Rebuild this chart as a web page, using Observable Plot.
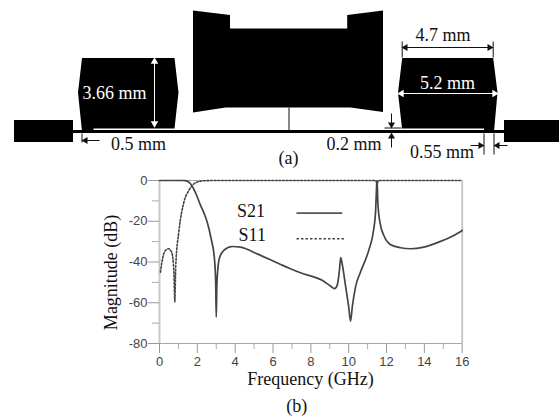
<!DOCTYPE html>
<html><head><meta charset="utf-8">
<script src="https://cdn.jsdelivr.net/npm/d3@7"></script>
<script src="https://cdn.jsdelivr.net/npm/@observablehq/plot@0.6"></script>
<style>html,body{margin:0;padding:0;background:#fff}svg{display:block;overflow:visible;background:transparent}</style>
</head><body><div id="a"></div><div id="b"></div>
<script>
// S-parameter curves [GHz, dB]
const s21 = [[0,0],[1.2,0],[1.37,-0.1],[1.55,-0.8],[1.73,-2.8],[1.95,-7],[2.17,-12.2],[2.35,-16],[2.52,-20.4],[2.73,-28.6],[2.9,-38],[2.97,-50],[3.0,-67],[3.03,-52],[3.07,-45],[3.17,-38],[3.4,-34.3],[3.84,-32.4],[4.28,-32.7],[5.16,-36],[6.4,-41.2],[6.92,-43.3],[7.45,-45.3],[8.6,-49],[9.04,-51.8],[9.25,-53.1],[9.39,-51.5],[9.5,-45],[9.58,-37.9],[9.67,-41.7],[9.83,-51.5],[10.0,-62],[10.1,-69],[10.19,-62],[10.36,-52.3],[10.62,-45],[11.06,-34.3],[11.3,-25.3],[11.42,-15.5],[11.49,-0.8],[11.5,0],[11.54,-10.6],[11.65,-20.4],[11.86,-27],[12.2,-31.4],[12.74,-33],[13.27,-33.5],[13.97,-32.7],[14.85,-29.9],[15.55,-27],[16,-24.5]];
const s11 = [[0.05,-45],[0.2,-36.8],[0.35,-34],[0.49,-33.5],[0.6,-34.5],[0.67,-36],[0.76,-45],[0.81,-59.6],[0.86,-41.7],[1.02,-25.3],[1.29,-10.6],[1.55,-4.9],[1.73,-2.5],[2.08,-0.5],[2.4,-0.1],[3,0],[11.42,0],[11.5,-1.5],[11.58,0],[16,0]];
const xMajor = [0,2,4,6,8,10,12,14,16];
const xMinor = [1,3,5,7,9,11,13,15];
const yMajor = [0,-20,-40,-60,-80];
const yMinor = [-10,-30,-50,-70];
const legendSolid = [{x1:7.24,x2:9.66,y:-16}];
const legendDashed = [{x1:7.24,x2:9.78,y:-28.6}];
const legendTexts = [{t:"S21",x:4.1,y:-18},{t:"S11",x:4.18,y:-29.5}];
const chartTexts = [
  {t:"Frequency (GHz)",x:7.98,y:-100.5},
  {t:"(b)",x:7.25,y:-113.6}
];

// Layout diagram outlines (diagram units)
const shapes = [
  {id:"centre",pts:[[192.5,10],[229.5,14.5],[229.5,28],[346.7,28],[346.7,14.5],[382.5,10],[382.5,111.5],[350,107],[225,107],[192.5,112]]},
  {id:"left",pts:[[81.5,57.5],[174,57.5],[178,92],[174,128],[93,128],[93,131],[81.5,131],[77.5,92]]},
  {id:"right",pts:[[401.7,57.5],[492.7,57.5],[497,92],[493.5,131],[483.5,131],[483.5,128],[401.5,128],[397.5,92]]}
];
const blocks = [{x1:14,x2:73,y1:120,y2:142},{x1:504,x2:559,y1:120,y2:142},{x1:73,x2:504,y1:130,y2:133}];
const whiteSegs = [{x1:154,y1:60,x2:154,y2:124},{x1:401,y1:93,x2:495,y2:93}];
const darkSegs = [
  {x1:288.5,y1:107,x2:288.5,y2:130},
  {x1:404,y1:47,x2:490,y2:47},{x1:401.7,y1:41,x2:401.7,y2:57},{x1:492.7,y1:41,x2:492.7,y2:57},
  {x1:81.5,y1:133,x2:81.5,y2:142},{x1:85,y1:140,x2:99,y2:140},
  {x1:384,y1:127.5,x2:401,y2:127.5},{x1:391,y1:113,x2:391,y2:124},{x1:391,y1:137,x2:391,y2:147},
  {x1:483.5,y1:133,x2:483.5,y2:154},{x1:493.5,y1:133,x2:493.5,y2:154},{x1:470,y1:145,x2:480,y2:145},{x1:497,y1:145,x2:507,y2:145}
];
const whiteHeads = [{x:154,y:61,a:0},{x:154,y:123,a:180},{x:401,y:93,a:-90},{x:494,y:93,a:90}];
const darkHeads = [
  {x:405,y:47,a:-90},{x:489,y:47,a:90},{x:85,y:140,a:-90},
  {x:391,y:124,a:180},{x:391,y:136,a:0},{x:480,y:145,a:90},{x:497,y:145,a:-90}
];
const darkLabels = [
  {t:"4.7 mm",x:442.6,y:40},{t:"0.5 mm",x:138,y:149},{t:"0.2 mm",x:353.5,y:149},
  {t:"0.55 mm",x:441.5,y:157.7},{t:"(a)",x:288,y:163}
];
const whiteLabels = [{t:"3.66 mm",x:114,y:98},{t:"5.2 mm",x:447,y:88}];

const serif = "'Liberation Serif','Times New Roman',serif";
const sans = "'Liberation Sans',Arial,sans-serif";
const shapeRows = shapes.flatMap(s => s.pts.map(p => ({id:s.id,x:p[0],y:p[1]})));
const txt = (data,fill) => Plot.text(data,{x:"x",y:"y",text:"t",fill,fontSize:18,fontFamily:serif,lineAnchor:"bottom",textAnchor:"middle"});

const diagram = Plot.plot({
  width:559,height:170,margin:0,
  style:{background:"transparent",overflow:"visible"},
  x:{domain:[0,559],range:[0,559],axis:null},
  y:{domain:[0,170],range:[0,170],axis:null},
  marks:[
    Plot.rect(blocks,{x1:"x1",x2:"x2",y1:"y1",y2:"y2",fill:"#000",inset:0}),
    Plot.line(shapeRows,{x:"x",y:"y",z:"id",fill:"#000",stroke:"none"}),
    Plot.link(darkSegs,{x1:"x1",y1:"y1",x2:"x2",y2:"y2",stroke:"#111",strokeWidth:1}),
    Plot.dot(darkHeads,{x:"x",y:"y",rotate:"a",symbol:"triangle",r:2.6,fill:"#111",stroke:"none"}),
    Plot.link(whiteSegs,{x1:"x1",y1:"y1",x2:"x2",y2:"y2",stroke:"#fff",strokeWidth:1}),
    Plot.dot(whiteHeads,{x:"x",y:"y",rotate:"a",symbol:"triangle",r:2.8,fill:"#fff",stroke:"none"}),
    txt(darkLabels,"#111"),
    txt(whiteLabels,"#fff")
  ]
});
document.getElementById("a").append(diagram);

const chart = Plot.plot({
  width:559,height:248,
  marginLeft:159,marginRight:97.3,marginTop:10,marginBottom:75,
  style:{background:"transparent",overflow:"visible"},
  x:{domain:[0,16],axis:null},
  y:{domain:[-80,0],axis:null},
  marks:[
    Plot.ruleY([0,-80],{stroke:"#a8a8a8",strokeWidth:1}),
    Plot.ruleX([0,16],{stroke:"#c8c8c8",strokeWidth:2}),
    Plot.axisX({ticks:xMajor,tickSize:10,tickPadding:3,fontSize:13,fontFamily:sans,stroke:"#999",fill:"#444",tickFormat:d=>d,label:null}),
    Plot.axisX({ticks:xMinor,tickSize:6,tickFormat:()=>"",stroke:"#aaa",label:null}),
    Plot.axisY({ticks:yMajor,tickSize:11,tickPadding:1,fontSize:13,fontFamily:sans,stroke:"#999",fill:"#444",tickFormat:d=>d,label:null}),
    Plot.axisY({ticks:yMinor,tickSize:7,tickFormat:()=>"",stroke:"#aaa",label:null}),
    Plot.line(s21,{x:d=>d[0],y:d=>d[1],stroke:"#444",strokeWidth:1.7,curve:"monotone-x"}),
    Plot.line(s11,{x:d=>d[0],y:d=>d[1],stroke:"#444",strokeWidth:1.6,strokeDasharray:"1.8,1.8",curve:"monotone-x"}),
    Plot.link(legendSolid,{x1:"x1",x2:"x2",y1:"y",y2:"y",stroke:"#555",strokeWidth:1.7}),
    Plot.link(legendDashed,{x1:"x1",x2:"x2",y1:"y",y2:"y",stroke:"#444",strokeWidth:1.6,strokeDasharray:"2.5,2"}),
    Plot.text(legendTexts,{x:"x",y:"y",text:"t",fontSize:18,fontFamily:serif,fill:"#111",textAnchor:"start",lineAnchor:"bottom"}),
    Plot.text(chartTexts,{x:"x",y:"y",text:"t",fontSize:18,fontFamily:serif,fill:"#111",lineAnchor:"bottom"}),
    Plot.text(["Magnitude (dB)"],{x:-2.27,y:-45.1,text:d=>d,rotate:-90,fontSize:18,fontFamily:serif,fill:"#111",lineAnchor:"bottom"})
  ]
});
document.getElementById("b").append(chart);
</script></body></html>
